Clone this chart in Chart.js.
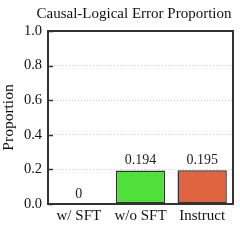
<!DOCTYPE html>
<html>
<head>
<meta charset="utf-8">
<script src="https://cdn.jsdelivr.net/npm/chart.js@4/dist/chart.umd.min.js"></script>
<style>
  html, body { margin: 0; padding: 0; background: #fff; }
  #wrap { width: 240px; height: 240px; }
</style>
</head>
<body>
<div id="wrap"><canvas id="c" width="240" height="240"></canvas></div>
<script>
const categories = ['w/ SFT', 'w/o SFT', 'Instruct'];
const proportions = [0, 0.194, 0.195];
const valueLabels = ['0', '0.194', '0.195'];
const barColors = ['#4fe03a', '#4fe03a', '#e0643f'];
const yTicks = [0, 0.2, 0.4, 0.6, 0.8, 1.0];
const titleText = 'Causal-Logical Error Proportion';

const FONT = "'Liberation Serif', 'DejaVu Serif', serif";
const FRAME = '#333333';

// title, value labels above bars, inward y ticks, and the box frame
const decorPlugin = {
  id: 'decor',
  afterDatasetsDraw(chart) {
    const { ctx, chartArea: a, scales: { y } } = chart;
    const meta = chart.getDatasetMeta(0);
    ctx.save();
    ctx.fillStyle = '#111';
    ctx.font = '15px ' + FONT;
    ctx.textAlign = 'center';
    ctx.textBaseline = 'middle';
    ctx.fillText(titleText, 134, 14);

    ctx.fillStyle = '#222';
    ctx.font = '14px ' + FONT;
    ctx.textBaseline = 'bottom';
    meta.data.forEach((bar, i) => {
      ctx.fillText(valueLabels[i], bar.x, bar.y - 3);
    });
    ctx.strokeStyle = FRAME;
    ctx.lineWidth = 1.5;
    yTicks.forEach(t => {
      const py = Math.round(y.getPixelForValue(t)) + 0.5;
      ctx.beginPath();
      ctx.moveTo(a.left, py);
      ctx.lineTo(a.left + 5, py);
      ctx.stroke();
    });
    ctx.lineWidth = 2;
    ctx.strokeRect(a.left, a.top, a.right - a.left, a.bottom - a.top);
    ctx.restore();
  }
};

new Chart(document.getElementById('c'), {
  type: 'bar',
  data: {
    labels: categories,
    datasets: [{
      data: proportions,
      backgroundColor: barColors,
      borderColor: '#333',
      borderWidth: 1.5,
      borderSkipped: false,
      barPercentage: 0.8,
      categoryPercentage: 1.0
    }]
  },
  options: {
    responsive: false,
    animation: false,
    layout: { padding: { left: 0, right: 7, top: 31, bottom: 12 } },
    plugins: {
      legend: { display: false },
      tooltip: { enabled: false },
      title: { display: false }
    },
    scales: {
      x: {
        grid: { display: false, drawTicks: false },
        border: { display: false },
        ticks: { color: '#111', font: { family: FONT, size: 15 }, padding: 3 }
      },
      y: {
        min: 0,
        max: 1,
        afterBuildTicks: (axis) => { axis.ticks = yTicks.map(v => ({ value: v })); },
        afterFit: (axis) => { axis.width = 48; },
        grid: { color: '#cccccc', drawTicks: false, lineWidth: 1 },
        border: { display: false, dash: [1, 2] },
        ticks: {
          color: '#111',
          font: { family: FONT, size: 14.5 },
          padding: 6,
          callback: (v) => Number(v).toFixed(1)
        },
        title: {
          display: true,
          text: 'Proportion',
          color: '#111',
          font: { family: FONT, size: 15.5 },
          padding: { top: 0, bottom: 1 }
        }
      }
    }
  },
  plugins: [decorPlugin]
});
</script>
</body>
</html>
